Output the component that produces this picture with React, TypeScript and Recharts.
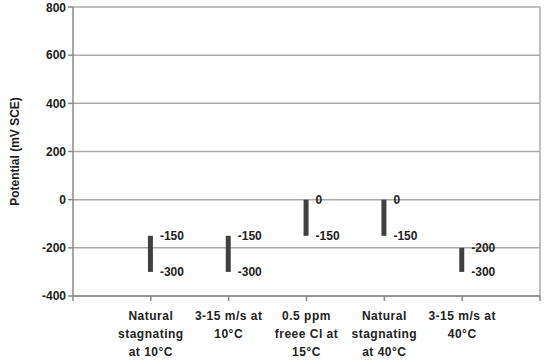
import React from "react";
import {
  ComposedChart,
  Bar,
  XAxis,
  YAxis,
  CartesianGrid,
  ReferenceLine,
  LabelList,
} from "recharts";

const categoryLines = [
  ["Natural", "stagnating", "at 10°C"],
  ["3-15 m/s at", "10°C"],
  ["0.5 ppm", "freee Cl at", "15°C"],
  ["Natural", "stagnating", "at 40°C"],
  ["3-15 m/s at", "40°C"],
];
const lows = [-300, -300, -150, -150, -300];
const highs = [-150, -150, 0, 0, -200];
const yTicks = [-400, -200, 0, 200, 400, 600, 800];

const data = categoryLines.map((lines, i) => ({
  pos: i + 1,
  range: [lows[i], highs[i]],
  low: lows[i],
  high: highs[i],
}));

const FONT = "'Liberation Sans', Arial, sans-serif";

const XTick = ({ x, y, payload }: any) => {
  const lines = categoryLines[payload.value - 1];
  if (!lines) return null;
  return (
    <text
      x={x}
      y={y + 17}
      textAnchor="middle"
      fontFamily={FONT}
      fontWeight="bold"
      fontSize={12}
      letterSpacing={0.5}
      fill="#222"
    >
      {lines.map((l, i) => (
        <tspan key={i} x={x} dy={i === 0 ? 0 : 18}>
          {l}
        </tspan>
      ))}
    </text>
  );
};

const RangeLabels = (props: any) => {
  const { x, y, width, height, index } = props;
  const top = Math.min(y, y + height);
  const bottom = Math.max(y, y + height);
  const lx = x + width + 7;
  return (
    <g fontFamily={FONT} fontWeight="bold" fontSize={12} fill="#222">
      <text x={lx} y={top} dy={4}>
        {highs[index]}
      </text>
      <text x={lx} y={bottom} dy={4}>
        {lows[index]}
      </text>
    </g>
  );
};

export default function App() {
  return (
    <div style={{ position: "absolute", left: 0, top: 0, background: "#fff" }}>
      <ComposedChart
        width={548}
        height={360}
        data={data}
        margin={{ top: 7, right: 8, bottom: 0, left: 0 }}
      >
        <CartesianGrid
          vertical={false}
          stroke="#aaaaaa"
          strokeWidth={1.5}
        />
        <XAxis
          dataKey="pos"
          type="number"
          domain={[0, 6]}
          ticks={[0, 1, 2, 3, 4, 5, 6]}
          interval={0}
          height={64}
          stroke="#888"
          strokeWidth={1.5}
          tickSize={5}
          tick={<XTick />}
        />
        <YAxis
          domain={[-400, 800]}
          ticks={yTicks}
          width={73}
          stroke="#888"
          strokeWidth={1.5}
          tickSize={5}
          tick={{
            fill: "#222",
            fontSize: 12,
            fontWeight: "bold",
            fontFamily: FONT,
          }}
          label={{
            value: "Potential (mV SCE)",
            angle: -90,
            position: "insideLeft",
            offset: 15,
            style: {
              textAnchor: "middle",
              fontFamily: FONT,
              fontWeight: "bold",
              fontSize: 12,
              fill: "#222",
            },
          }}
        />
        <ReferenceLine x={6} stroke="#aaaaaa" strokeWidth={1.5} />
        <Bar
          dataKey="range"
          barSize={5}
          fill="#404040"
          isAnimationActive={false}
        >
          <LabelList dataKey="range" content={<RangeLabels />} />
        </Bar>
      </ComposedChart>
    </div>
  );
}
